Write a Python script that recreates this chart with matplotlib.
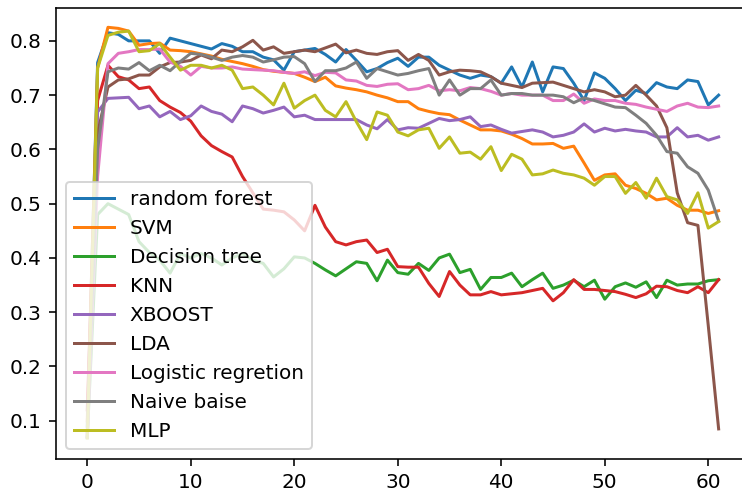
import numpy as np
import matplotlib
matplotlib.use('Agg')
import matplotlib.pyplot as plt

# accuracy per step for each model
x = np.arange(62)

random_forest = [0.09, 0.76, 0.815, 0.812, 0.80, 0.80, 0.80, 0.777, 0.805, 0.80,
                 0.795, 0.79, 0.785, 0.795, 0.79, 0.78, 0.78, 0.77, 0.765, 0.746,
                 0.78, 0.783, 0.786, 0.775, 0.761, 0.784, 0.764, 0.743, 0.749, 0.76,
                 0.768, 0.753, 0.77, 0.77, 0.755, 0.746, 0.737, 0.731, 0.737, 0.734,
                 0.722, 0.752, 0.715, 0.761, 0.706, 0.752, 0.749, 0.722, 0.69, 0.741,
                 0.731, 0.712, 0.69, 0.709, 0.703, 0.723, 0.715, 0.712, 0.728, 0.725,
                 0.682, 0.70]
svm = [0.10, 0.75, 0.825, 0.823, 0.818, 0.792, 0.795, 0.796, 0.783, 0.782,
       0.78, 0.776, 0.772, 0.766, 0.762, 0.758, 0.753, 0.747, 0.744, 0.742,
       0.74, 0.733, 0.725, 0.733, 0.717, 0.713, 0.71, 0.706, 0.70, 0.695,
       0.688, 0.688, 0.675, 0.67, 0.666, 0.664, 0.654, 0.645, 0.636, 0.636,
       0.634, 0.628, 0.62, 0.61, 0.61, 0.611, 0.602, 0.606, 0.575, 0.543,
       0.553, 0.555, 0.534, 0.528, 0.519, 0.507, 0.51, 0.497, 0.488, 0.488,
       0.482, 0.487]
decision_tree = [0.07, 0.48, 0.50, 0.49, 0.48, 0.43, 0.41, 0.396, 0.372, 0.408,
                 0.40, 0.408, 0.40, 0.387, 0.40, 0.408, 0.396, 0.39, 0.365, 0.38,
                 0.402, 0.40, 0.39, 0.378, 0.367, 0.38, 0.393, 0.39, 0.358, 0.396,
                 0.373, 0.37, 0.39, 0.377, 0.40, 0.407, 0.373, 0.379, 0.342, 0.364,
                 0.364, 0.372, 0.347, 0.36, 0.372, 0.344, 0.35, 0.359, 0.347, 0.359,
                 0.324, 0.347, 0.354, 0.346, 0.356, 0.327, 0.359, 0.35, 0.352, 0.352,
                 0.358, 0.36]
knn = [0.12, 0.69, 0.755, 0.734, 0.728, 0.712, 0.715, 0.69, 0.678, 0.668,
       0.652, 0.625, 0.607, 0.596, 0.586, 0.55, 0.52, 0.49, 0.488, 0.485,
       0.47, 0.45, 0.497, 0.457, 0.43, 0.424, 0.43, 0.433, 0.41, 0.416,
       0.384, 0.383, 0.383, 0.353, 0.329, 0.375, 0.35, 0.332, 0.332, 0.338,
       0.332, 0.334, 0.336, 0.34, 0.344, 0.321, 0.336, 0.36, 0.342, 0.342,
       0.34, 0.338, 0.333, 0.327, 0.334, 0.348, 0.347, 0.34, 0.336, 0.347,
       0.336, 0.36]
xboost = [0.08, 0.669, 0.694, 0.695, 0.696, 0.675, 0.68, 0.66, 0.67, 0.655,
          0.662, 0.68, 0.67, 0.665, 0.651, 0.68, 0.675, 0.667, 0.672, 0.678,
          0.66, 0.663, 0.655, 0.655, 0.655, 0.655, 0.655, 0.645, 0.638, 0.655,
          0.636, 0.64, 0.639, 0.648, 0.657, 0.653, 0.655, 0.66, 0.642, 0.645,
          0.637, 0.63, 0.633, 0.636, 0.632, 0.623, 0.626, 0.632, 0.647, 0.632,
          0.639, 0.634, 0.637, 0.634, 0.632, 0.623, 0.623, 0.64, 0.623, 0.626,
          0.617, 0.623]
lda = [0.07, 0.63, 0.715, 0.728, 0.73, 0.737, 0.737, 0.752, 0.76, 0.761,
       0.764, 0.774, 0.767, 0.783, 0.78, 0.789, 0.801, 0.783, 0.789, 0.777,
       0.78, 0.783, 0.78, 0.787, 0.794, 0.778, 0.783, 0.777, 0.775, 0.78,
       0.782, 0.764, 0.775, 0.764, 0.737, 0.743, 0.746, 0.745, 0.743, 0.734,
       0.722, 0.718, 0.714, 0.722, 0.723, 0.724, 0.718, 0.712, 0.706, 0.71,
       0.706, 0.697, 0.70, 0.718, 0.70, 0.68, 0.64, 0.52, 0.465, 0.46,
       0.275, 0.085]
logistic = [0.07, 0.55, 0.758, 0.777, 0.78, 0.784, 0.784, 0.785, 0.761, 0.753,
            0.737, 0.753, 0.75, 0.75, 0.752, 0.748, 0.747, 0.746, 0.745, 0.742,
            0.74, 0.743, 0.736, 0.742, 0.741, 0.728, 0.726, 0.718, 0.716, 0.72,
            0.721, 0.71, 0.712, 0.718, 0.708, 0.71, 0.708, 0.714, 0.712, 0.707,
            0.70, 0.703, 0.70, 0.70, 0.70, 0.69, 0.69, 0.702, 0.685, 0.693,
            0.69, 0.69, 0.685, 0.683, 0.678, 0.674, 0.67, 0.68, 0.685, 0.678,
            0.677, 0.68]
naive_bayes = [0.07, 0.60, 0.743, 0.75, 0.748, 0.76, 0.745, 0.755, 0.745, 0.762,
               0.777, 0.775, 0.77, 0.764, 0.77, 0.773, 0.77, 0.761, 0.765, 0.77,
               0.771, 0.758, 0.725, 0.745, 0.745, 0.75, 0.761, 0.731, 0.749, 0.743,
               0.737, 0.74, 0.745, 0.749, 0.70, 0.728, 0.70, 0.712, 0.712, 0.728,
               0.70, 0.703, 0.703, 0.70, 0.70, 0.70, 0.697, 0.686, 0.695, 0.69,
               0.684, 0.678, 0.677, 0.663, 0.648, 0.626, 0.596, 0.593, 0.568, 0.556,
               0.525, 0.468]
mlp = [0.068, 0.75, 0.81, 0.816, 0.818, 0.78, 0.782, 0.795, 0.77, 0.746,
       0.755, 0.755, 0.75, 0.755, 0.746, 0.712, 0.715, 0.70, 0.682, 0.722,
       0.676, 0.69, 0.70, 0.672, 0.66, 0.688, 0.651, 0.618, 0.669, 0.663,
       0.632, 0.625, 0.636, 0.639, 0.602, 0.623, 0.593, 0.595, 0.582, 0.605,
       0.561, 0.591, 0.582, 0.553, 0.555, 0.562, 0.556, 0.553, 0.547, 0.534,
       0.55, 0.55, 0.519, 0.539, 0.51, 0.547, 0.513, 0.507, 0.482, 0.52,
       0.455, 0.467]

labels = ['random forest', 'SVM', 'Decision tree', 'KNN', 'XBOOST', 'LDA',
          'Logistic regretion', 'Naive baise', 'MLP']
series = [random_forest, svm, decision_tree, knn, xboost, lda,
          logistic, naive_bayes, mlp]

fig = plt.figure(figsize=(742 / 144, 495 / 144), dpi=144)
ax = fig.add_axes([55.7 / 742, 35.7 / 495, 694.5 / 742, 451 / 495])
for lab, s in zip(labels, series):
    ax.plot(x, s, label=lab)
ax.set_ylim(0.029, 0.86)
ax.set_yticks([0.1, 0.2, 0.3, 0.4, 0.5, 0.6, 0.7, 0.8])
ax.set_xticks([0, 10, 20, 30, 40, 50, 60])
ax.legend(loc='lower left')
fig.savefig('out.png', dpi=144)
